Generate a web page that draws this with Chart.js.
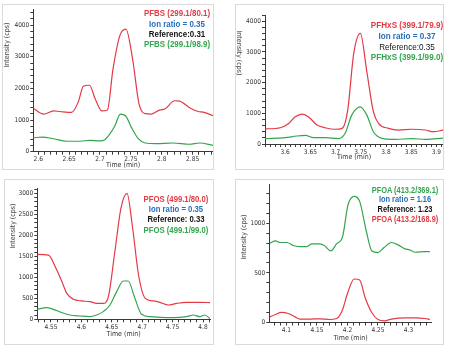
<!DOCTYPE html>
<html><head><meta charset="utf-8">
<script src="https://cdn.jsdelivr.net/npm/chart.js@4.4.0/dist/chart.umd.min.js"></script>
<style>
html,body{margin:0;padding:0;background:#fff;width:449px;height:355px;overflow:hidden;}
.box{position:absolute;border:1px solid #dadada;box-sizing:border-box;background:#fff;}
.box canvas{position:absolute;left:0;top:0;}
.lbl{position:absolute;white-space:nowrap;font-family:"Liberation Sans",Arial,sans-serif;font-weight:bold;font-size:9.4px;line-height:10px;transform-origin:50% 50%;}
.yt{position:absolute;white-space:nowrap;font-family:"Liberation Sans Narrow","Arial Narrow","DejaVu Sans Condensed",sans-serif;font-size:7px;color:#444;}
</style></head>
<body>
<div class="box" id="b1" style="left:2px;top:4px;width:212px;height:166px"><canvas id="c1" width="210" height="164"></canvas></div>
<div class="box" id="b2" style="left:235px;top:4px;width:209px;height:166px"><canvas id="c2" width="207" height="164"></canvas></div>
<div class="box" id="b3" style="left:4px;top:179px;width:210px;height:166px"><canvas id="c3" width="208" height="164"></canvas></div>
<div class="box" id="b4" style="left:235px;top:179px;width:209px;height:166px"><canvas id="c4" width="207" height="164"></canvas></div>
<script>
// ---- data (time in min, intensity in cps) ----
const PFBS_T_80 = [2.592,2.609,2.625,2.635,2.654,2.665,2.673,2.683,2.692,2.703,2.712,2.721,2.732,2.742,2.753,2.763,2.773,2.783,2.797,2.805,2.821,2.829,2.845,2.859,2.867,2.883];
const PFBS_I_80 = [1370,1190,1290,1270,1240,1580,2070,2100,1680,1290,1320,2600,3660,3870,2900,1530,1200,1190,1320,1350,1610,1600,1390,1270,1250,1140];
const PFBS_T_99 = [2.592,2.606,2.625,2.646,2.668,2.684,2.700,2.708,2.716,2.724,2.733,2.742,2.751,2.762,2.773,2.791,2.818,2.845,2.861,2.883];
const PFBS_I_99 = [440,460,410,330,330,360,340,380,560,810,1190,1120,760,410,275,255,275,235,275,200];

const PFHXS_T_80 = [3.560,3.590,3.607,3.620,3.634,3.646,3.663,3.679,3.699,3.713,3.724,3.736,3.749,3.762,3.775,3.785,3.805,3.825,3.851,3.878,3.894,3.914];
const PFHXS_I_80 = [490,530,670,890,975,890,620,530,480,510,1100,2950,3600,2350,1050,670,510,455,480,455,400,455];
const PFHXS_T_99 = [3.560,3.600,3.623,3.640,3.656,3.679,3.706,3.719,3.732,3.749,3.762,3.775,3.792,3.818,3.851,3.878,3.914];
const PFHXS_I_99 = [175,205,260,280,205,205,175,350,940,1210,940,400,185,150,175,150,195];

const PFOS_T_80 = [4.527,4.546,4.557,4.568,4.576,4.587,4.600,4.614,4.625,4.636,4.644,4.655,4.665,4.675,4.684,4.694,4.705,4.718,4.729,4.743,4.757,4.773,4.795,4.812];
const PFOS_I_80 = [1548,1532,1254,897,619,476,437,421,381,381,516,1611,2643,3000,2206,1056,500,437,405,341,381,405,405,397];
const PFOS_T_99 = [4.527,4.543,4.554,4.568,4.581,4.598,4.614,4.625,4.636,4.647,4.658,4.669,4.677,4.688,4.699,4.713,4.729,4.751,4.773,4.784,4.795,4.803,4.812];
const PFOS_I_99 = [238,278,238,159,103,79,63,103,183,341,659,913,913,500,119,63,48,40,63,103,63,103,8];

const PFOA_T_369 = [4.073,4.082,4.090,4.101,4.111,4.122,4.133,4.142,4.155,4.162,4.173,4.182,4.192,4.201,4.211,4.220,4.231,4.240,4.250,4.260,4.272,4.283,4.294,4.302,4.311,4.327,4.335];
const PFOA_I_369 = [798,822,805,805,775,764,764,791,791,775,720,791,865,1185,1270,1219,916,720,704,754,805,781,741,731,707,714,714];
const PFOA_T_169 = [4.073,4.082,4.092,4.103,4.114,4.122,4.139,4.155,4.171,4.182,4.191,4.201,4.211,4.220,4.229,4.240,4.250,4.261,4.272,4.294,4.310,4.327,4.335];
const PFOA_I_169 = [57,81,101,91,57,34,34,37,30,40,114,310,438,428,249,98,30,17,34,47,47,40,30];

const LABELS_PFBS  = ['PFBS (299.1/80.1)','Ion ratio = 0.35','Reference:0.31','PFBS (299.1/98.9)'];
const LABELS_PFHXS = ['PFHxS (399.1/79.9)','Ion ratio = 0.37','Reference:0.35','PFHxS (399.1/99.0)'];
const LABELS_PFOS  = ['PFOS (499.1/80.0)','Ion ratio = 0.35','Reference: 0.33','PFOS (499.1/99.0)'];
const LABELS_PFOA  = ['PFOA (413.2/369.1)','Ion ratio = 1.16','Reference: 1.23','PFOA (413.2/168.9)'];
const Y_TITLE = 'Intensity (cps)';
const X_TITLE = 'Time (min)';

// ---- styling ----
const RED = 'rgb(228,58,70)', GREEN = 'rgb(52,165,78)', BLUE = 'rgb(40,110,185)', BLACK = '#111';
const FAM = '"Liberation Sans Narrow","Arial Narrow","DejaVu Sans Condensed",sans-serif';
const AX = '#3a3a3a';

function pts(t, v){ return t.map((x,i)=>({x:x,y:v[i]})); }

function panel(id, o){
  const ds = o.series.map(s=>({data:pts(s[0],s[1]),borderColor:s[2],borderWidth:1.2,pointRadius:0,cubicInterpolationMode:'monotone',fill:false}));
  new Chart(document.getElementById(id), {
    type:'line',
    data:{datasets:ds},
    options:{
      responsive:false, animation:false, events:[],
      layout:{padding:o.pad},
      plugins:{legend:{display:false},tooltip:{enabled:false}},
      scales:{
        x:{type:'linear',min:o.xmin,max:o.xmax,
           border:{display:true,color:AX,width:1},
           grid:{display:true,drawOnChartArea:false,drawTicks:true,tickLength:3,color:AX},
           ticks:{stepSize:0.01,autoSkip:false,maxRotation:0,includeBounds:false,padding:1,color:'#333',font:{size:6.5,family:FAM},
             callback:(v)=>{const k=v*20;return Math.abs(k-Math.round(k))<1e-6?String(+v.toFixed(2)):'';}},
           title:{display:true,text:X_TITLE,color:'#333',font:{size:7,family:FAM},padding:{top:0,bottom:o.xtPad}},
           afterFit:(s)=>{s.height=o.xH;}},
        y:{type:'linear',min:0,max:o.ymax,
           border:{display:true,color:AX,width:1},
           grid:{display:true,drawOnChartArea:false,drawTicks:true,tickLength:3,color:AX},
           ticks:{stepSize:o.ystep,autoSkip:false,includeBounds:false,padding:1,color:'#333',font:{size:6.5,family:FAM},
             callback:(v)=>(Math.abs(v%o.ymajor)<1e-6?String(v):'')},
           afterFit:(s)=>{s.width=o.yW;}}
      }
    }
  });
}

panel('c1',{series:[[PFBS_T_80,PFBS_I_80,RED],[PFBS_T_99,PFBS_I_99,GREEN]],
  xmin:2.592,xmax:2.883,ymax:4480,ystep:200,ymajor:1000,pad:{left:0,top:1,right:0,bottom:0},yW:30.3,xH:17.3,xtPad:0});
panel('c2',{series:[[PFHXS_T_80,PFHXS_I_80,RED],[PFHXS_T_99,PFHXS_I_99,GREEN]],
  xmin:3.560,xmax:3.913,ymax:4200,ystep:200,ymajor:1000,pad:{left:0,top:10,right:0,bottom:0},yW:29,xH:25,xtPad:7.8});
panel('c3',{series:[[PFOS_T_80,PFOS_I_80,RED],[PFOS_T_99,PFOS_I_99,GREEN]],
  xmin:4.5275,xmax:4.8115,ymax:3130,ystep:100,ymajor:500,pad:{left:0,top:8,right:3,bottom:0},yW:32.3,xH:24.7,xtPad:5.8});
panel('c4',{series:[[PFOA_T_369,PFOA_I_369,GREEN],[PFOA_T_169,PFOA_I_169,RED]],
  xmin:4.072,xmax:4.338,ymax:1385,ystep:100,ymajor:500,pad:{left:0,top:4,right:11.3,bottom:0},yW:33.3,xH:21.5,xtPad:1.8});

// ---- annotation texts (condensed to the reference's width) ----
function addLabels(lines, colors, weights, cx, ys, targetW){
  const els = lines.map((t,i)=>{
    const d=document.createElement('div'); d.className='lbl'; d.textContent=t;
    d.style.left=cx+'px'; d.style.top=ys[i]+'px'; d.style.color=colors[i]; d.style.fontWeight=weights[i];
    document.body.appendChild(d); return d;
  });
  const f = targetW / els[0].offsetWidth;
  els.forEach(d=>{ d.style.transform='translate(-50%,-50%) scaleX('+f.toFixed(3)+')'; });
}
addLabels(LABELS_PFBS,[RED,BLUE,BLACK,GREEN],['bold','bold','bold','bold'],177,[13.3,23.7,34,44.3],66);
addLabels(LABELS_PFHXS,[RED,BLUE,BLACK,GREEN],['bold','bold','normal','bold'],406.5,[25.3,36.3,46.7,56.7],72);
addLabels(LABELS_PFOS,[RED,BLUE,BLACK,GREEN],['bold','bold','bold','bold'],175.8,[199,209,219.3,229.7],65);
addLabels(LABELS_PFOA,[GREEN,BLUE,BLACK,RED],['bold','bold','bold','bold'],405,[190,199.3,208.7,218.7],66.5);

function addYTitle(x,y,deg){
  const d=document.createElement('div'); d.className='yt'; d.textContent=Y_TITLE;
  d.style.left=x+'px'; d.style.top=y+'px';
  d.style.transform='translate(-50%,-50%) rotate('+deg+'deg)';
  document.body.appendChild(d);
}
addYTitle(7.3,45,-90); addYTitle(239,53,90); addYTitle(12.7,226,-90); addYTitle(244.3,237,-90);
</script>
</body></html>
